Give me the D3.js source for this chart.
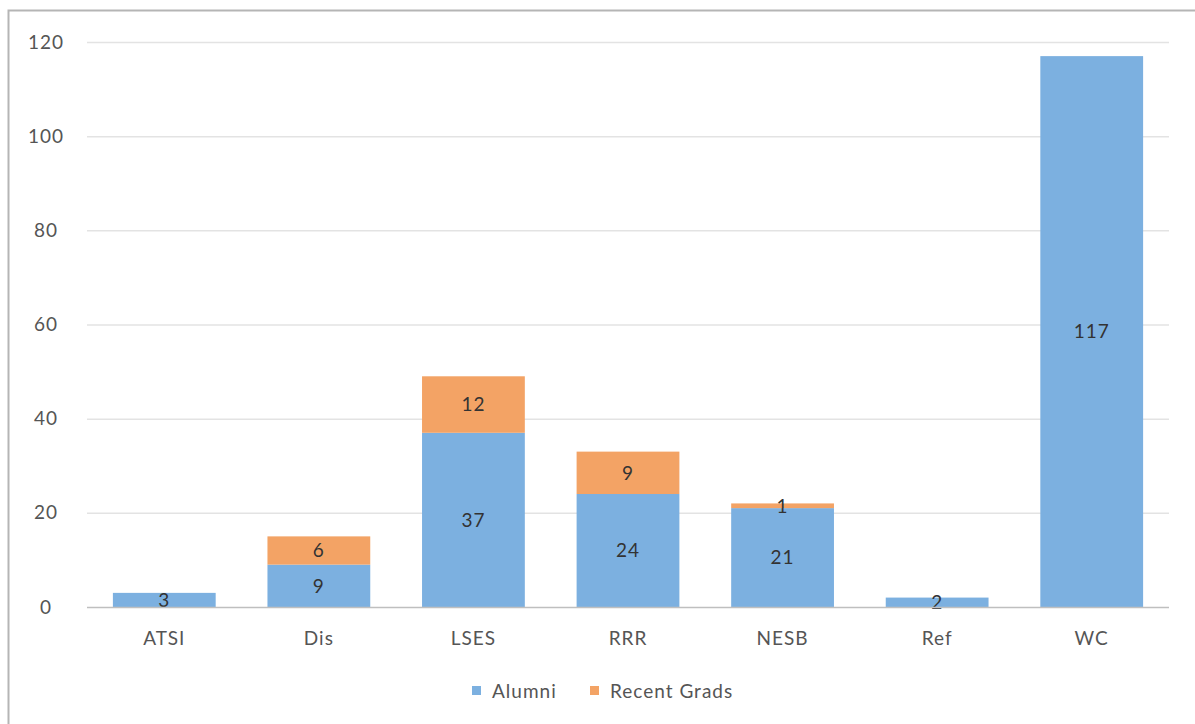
<!DOCTYPE html>
<html><head><meta charset="utf-8">
<script src="https://cdn.jsdelivr.net/npm/d3@7"></script>
<style>body{margin:0;background:#fff}svg{display:block}text{font-family:Lato,"Open Sans",sans-serif}</style>
</head><body><svg id="c" width="1195" height="724"></svg>
<script>
const categories = ["ATSI","Dis","LSES","RRR","NESB","Ref","WC"];
const alumni = [3,9,37,24,21,2,117];
const recentGrads = [0,6,12,9,1,0,0];
const seriesNames = ["Alumni","Recent Grads"];
const yTicks = [0,20,40,60,80,100,120];
const colors = ["#7cb0e0","#f3a365"];

const svg = d3.select("#c");
svg.append("path").attr("d","M1195,10.5 H8.5 V724").attr("fill","none").attr("stroke","#b5b5b5").attr("stroke-width",2);

const x = d3.scaleBand().domain(categories).range([87,1169]).paddingInner(0.335).paddingOuter(0.1675);
const y = d3.scaleLinear().domain([0,120]).range([607,42]);

svg.append("g").selectAll("line").data(yTicks.slice(1)).join("line")
  .attr("x1",87).attr("x2",1169).attr("y1",d=>y(d)+0.5).attr("y2",d=>y(d)+0.5)
  .attr("stroke","#e3e3e3").attr("stroke-width",1.5);

const data = categories.map((c,i)=>({cat:c,Alumni:alumni[i],"Recent Grads":recentGrads[i]}));
const stacked = d3.stack().keys(seriesNames)(data);

const g = svg.append("g");
stacked.forEach((s,si)=>{
  g.selectAll(null).data(s.filter(d=>d[1]-d[0]>0)).join("rect")
    .attr("x",d=>x(d.data.cat)).attr("width",x.bandwidth())
    .attr("y",d=>y(d[1])).attr("height",d=>y(d[0])-y(d[1]))
    .attr("fill",colors[si]);
});

svg.append("line").attr("x1",87).attr("x2",1169).attr("y1",y(0)+0.5).attr("y2",y(0)+0.5)
  .attr("stroke","#bfbfbf").attr("stroke-width",1.5);

stacked.forEach((s,si)=>{
  g.selectAll(null).data(s.filter(d=>d[1]-d[0]>0)).join("text")
    .attr("x",d=>x(d.data.cat)+x.bandwidth()/2)
    .attr("y",d=>(y(d[0])+y(d[1]))/2)
    .attr("dy","0.36em").attr("text-anchor","middle")
    .attr("font-size",19).attr("letter-spacing",1).attr("fill","#333")
    .text(d=>d[1]-d[0]);
});

const yAxis = d3.axisLeft(y).tickValues(yTicks).tickSize(0).tickPadding(0);
const ya = svg.append("g").attr("transform","translate(46,0)").call(yAxis);
ya.select(".domain").remove();
ya.selectAll("text").attr("font-size",19).attr("letter-spacing",1).attr("fill","#555").attr("text-anchor","middle").attr("font-family","Lato,sans-serif");

const xAxis = d3.axisBottom(x).tickSize(0).tickPadding(0);
const xa = svg.append("g").attr("transform","translate(0,631)").call(xAxis);
xa.select(".domain").remove();
xa.selectAll("text").attr("font-size",19).attr("letter-spacing",1).attr("fill","#555").attr("font-family","Lato,sans-serif");

const leg = svg.append("g");
const legItems = [{name:seriesNames[0],x:472},{name:seriesNames[1],x:590}];
legItems.forEach((it,i)=>{
  leg.append("rect").attr("x",it.x).attr("y",686).attr("width",9).attr("height",9).attr("fill",colors[i]);
  leg.append("text").attr("x",it.x+20).attr("y",691).attr("dy","0.36em").attr("font-size",19).attr("letter-spacing",1).attr("fill","#555").text(it.name);
});
</script></body></html>
